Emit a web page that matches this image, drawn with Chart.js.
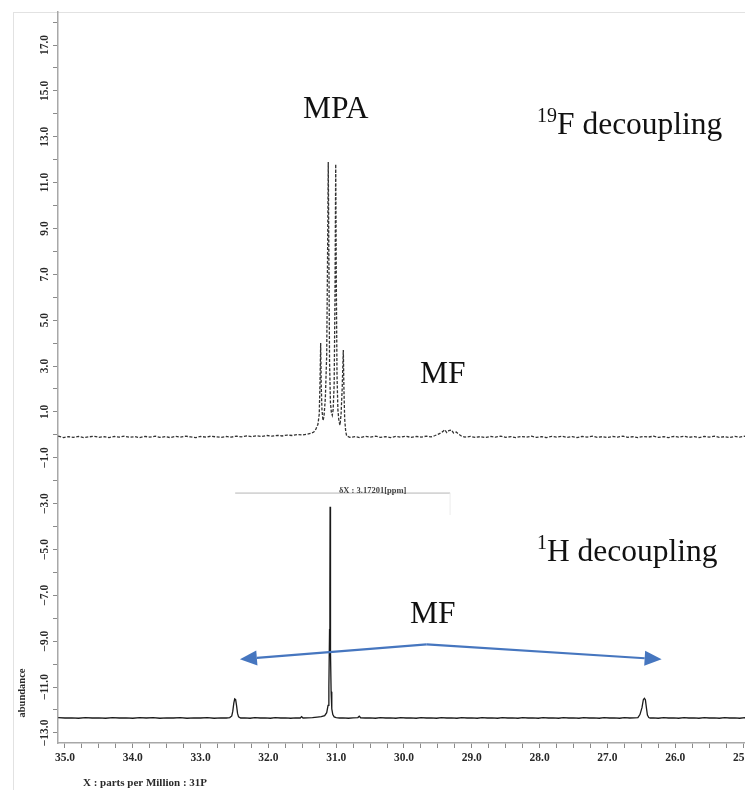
<!DOCTYPE html>
<html><head><meta charset="utf-8">
<script src="https://cdn.jsdelivr.net/npm/chart.js@4.4.1/dist/chart.umd.min.js"></script>
<style>
html,body{margin:0;padding:0;background:#fff;overflow:hidden;width:745px;height:790px}
#frame{position:absolute;left:13px;top:12px;width:800px;height:800px;border-left:1px solid #e2e2e2;border-top:1px solid #e2e2e2}
#wrap{position:absolute;left:0;top:0;width:800px;height:790px}
</style></head><body>
<div id="frame"></div>
<div id="wrap"><canvas id="c" width="800" height="790"></canvas></div>
<script>
// ---- data ----
const topPpm = [35.10,35.02,34.95,34.88,34.80,34.72,34.65,34.57,34.50,34.42,34.35,34.27,34.20,34.12,34.05,33.97,33.90,33.82,33.75,33.67,33.60,33.52,33.45,33.37,33.30,33.22,33.15,33.07,33.00,32.92,32.85,32.77,32.70,32.62,32.55,32.47,32.40,32.32,32.25,32.17,32.10,32.02,31.95,31.87,31.80,31.72,31.65,31.57,31.50,31.43,31.38,31.33,31.30,31.27,31.25,31.238,31.229,31.221,31.21,31.195,31.18,31.16,31.14,31.128,31.117,31.108,31.098,31.085,31.07,31.058,31.045,31.03,31.018,31.007,30.998,30.988,30.975,30.96,30.944,30.928,30.912,30.895,30.886,30.875,30.86,30.845,30.80,30.72,30.65,30.57,30.50,30.42,30.35,30.27,30.20,30.12,30.05,29.97,29.90,29.82,29.75,29.67,29.60,29.55,29.50,29.46,29.43,29.40,29.37,29.34,29.30,29.27,29.23,29.19,29.15,29.10,29.02,28.95,28.87,28.80,28.72,28.65,28.57,28.50,28.42,28.35,28.27,28.20,28.12,28.05,27.97,27.90,27.82,27.75,27.67,27.60,27.52,27.45,27.37,27.30,27.22,27.15,27.07,27.00,26.92,26.85,26.77,26.70,26.62,26.55,26.47,26.40,26.32,26.25,26.17,26.10,26.02,25.95,25.87,25.80,25.72,25.65,25.57,25.50,25.42,25.35,25.27,25.20,25.12,25.05,24.97,24.90,24.82,24.75,24.67,24.60,24.52,24.45,24.37,24.31];
const topAbund = [-0.06,-0.12,-0.08,-0.11,-0.07,-0.12,-0.09,-0.06,-0.11,-0.08,-0.12,-0.07,-0.10,-0.06,-0.11,-0.08,-0.12,-0.07,-0.10,-0.06,-0.11,-0.08,-0.12,-0.07,-0.10,-0.06,-0.09,-0.12,-0.07,-0.10,-0.06,-0.09,-0.11,-0.07,-0.10,-0.06,-0.09,-0.05,-0.08,-0.04,-0.07,-0.03,-0.06,-0.02,-0.05,-0.01,-0.03,0.01,-0.01,0.03,0.06,0.12,0.25,0.45,0.9,2.4,4.0,2.2,1.1,0.62,0.8,1.6,3.5,7.5,11.9,7.8,3.2,1.4,0.95,0.85,1.1,2.2,6.0,11.8,6.5,2.6,1.1,0.6,0.42,0.9,2.0,3.7,2.0,0.7,0.15,-0.05,-0.11,-0.08,-0.12,-0.07,-0.10,-0.06,-0.11,-0.08,-0.12,-0.07,-0.10,-0.06,-0.11,-0.07,-0.10,-0.06,-0.09,-0.04,0.02,0.08,0.14,0.22,0.10,0.18,0.21,0.08,0.12,0.02,-0.06,-0.10,-0.07,-0.11,-0.08,-0.12,-0.07,-0.10,-0.06,-0.11,-0.08,-0.12,-0.07,-0.10,-0.06,-0.11,-0.08,-0.12,-0.07,-0.10,-0.06,-0.11,-0.08,-0.12,-0.07,-0.10,-0.06,-0.11,-0.08,-0.12,-0.07,-0.10,-0.06,-0.11,-0.08,-0.12,-0.07,-0.10,-0.06,-0.11,-0.08,-0.12,-0.07,-0.10,-0.06,-0.11,-0.08,-0.12,-0.07,-0.10,-0.06,-0.11,-0.08,-0.12,-0.07,-0.10,-0.06,-0.11,-0.08,-0.12,-0.07,-0.10,-0.06,-0.11,-0.08,-0.10];

const botPpm = [35.10,35.00,34.90,34.80,34.70,34.60,34.50,34.40,34.30,34.20,34.10,34.00,33.90,33.80,33.70,33.60,33.50,33.40,33.30,33.20,33.10,33.00,32.90,32.80,32.70,32.62,32.57,32.54,32.525,32.51,32.497,32.483,32.47,32.455,32.44,32.41,32.35,32.27,32.20,32.12,32.05,31.97,31.90,31.82,31.75,31.67,31.60,31.53,31.51,31.49,31.42,31.35,31.28,31.22,31.17,31.14,31.12,31.108,31.098,31.093,31.090,31.086,31.082,31.075,31.065,31.05,31.03,31.00,30.95,30.90,30.82,30.75,30.68,30.66,30.64,30.57,30.50,30.42,30.35,30.27,30.20,30.12,30.05,29.97,29.90,29.82,29.75,29.67,29.60,29.52,29.45,29.37,29.30,29.22,29.15,29.07,29.00,28.92,28.85,28.77,28.70,28.62,28.55,28.47,28.40,28.32,28.25,28.17,28.10,28.02,27.95,27.87,27.80,27.72,27.65,27.57,27.50,27.42,27.35,27.27,27.20,27.12,27.05,26.97,26.90,26.82,26.75,26.67,26.60,26.55,26.52,26.49,26.47,26.455,26.44,26.425,26.41,26.39,26.37,26.32,26.25,26.17,26.10,26.02,25.95,25.87,25.80,25.72,25.65,25.57,25.50,25.42,25.35,25.27,25.20,25.12,25.05,24.97,24.90,24.82,24.75,24.67,24.60,24.52,24.45,24.37,24.31];
const botAbund = [-12.33,-12.35,-12.34,-12.36,-12.33,-12.35,-12.34,-12.36,-12.33,-12.35,-12.34,-12.36,-12.33,-12.35,-12.33,-12.36,-12.34,-12.35,-12.33,-12.36,-12.34,-12.35,-12.33,-12.36,-12.34,-12.35,-12.33,-12.26,-12.05,-11.70,-11.52,-11.55,-11.80,-12.15,-12.30,-12.35,-12.34,-12.36,-12.33,-12.35,-12.34,-12.36,-12.33,-12.35,-12.34,-12.36,-12.34,-12.35,-12.29,-12.35,-12.34,-12.33,-12.31,-12.29,-12.25,-12.12,-11.80,-11.00,-8.50,-6.60,-3.14,-6.50,-9.50,-11.20,-11.95,-12.20,-12.30,-12.33,-12.35,-12.34,-12.36,-12.34,-12.33,-12.27,-12.34,-12.35,-12.34,-12.36,-12.33,-12.35,-12.34,-12.36,-12.33,-12.35,-12.34,-12.36,-12.33,-12.35,-12.34,-12.36,-12.33,-12.35,-12.34,-12.36,-12.33,-12.35,-12.34,-12.36,-12.33,-12.35,-12.34,-12.36,-12.33,-12.35,-12.34,-12.36,-12.33,-12.35,-12.34,-12.36,-12.33,-12.35,-12.34,-12.36,-12.33,-12.35,-12.34,-12.36,-12.33,-12.35,-12.34,-12.36,-12.33,-12.35,-12.34,-12.36,-12.33,-12.35,-12.34,-12.33,-12.20,-11.90,-11.55,-11.49,-11.55,-11.90,-12.22,-12.33,-12.35,-12.34,-12.36,-12.33,-12.35,-12.34,-12.36,-12.33,-12.35,-12.34,-12.36,-12.33,-12.35,-12.34,-12.36,-12.33,-12.35,-12.34,-12.36,-12.33,-12.35,-12.34,-12.36,-12.33,-12.35,-12.34,-12.36,-12.33,-12.35];

const xTickValues = [35,34,33,32,31,30,29,28,27,26,25];
const xTickLabels = ['35.0','34.0','33.0','32.0','31.0','30.0','29.0','28.0','27.0','26.0','25.0'];
const yTickValues = [17,15,13,11,9,7,5,3,1,-1,-3,-5,-7,-9,-11,-13];
const yTickLabels = ['17.0','15.0','13.0','11.0','9.0','7.0','5.0','3.0','1.0','\u22121.0','\u22123.0','\u22125.0','\u22127.0','\u22129.0','\u221211.0','\u221213.0'];
const yTitle = 'abundance';
const xTitle = 'X : parts per Million : 31P';

// ---- build ----
const topData = topPpm.map((p,i)=>({x:p,y:topAbund[i]}));
const botData = botPpm.map((p,i)=>({x:p,y:botAbund[i]}));
const xMinor = [];
xTickValues.forEach(m=>{ xMinor.push(m); [0.25,0.5,0.75].forEach(d=>xMinor.push(m-d)); });
const yMinor = [];
for (let v=-13; v<=18; v++) yMinor.push(v);

const SERIF = '"Liberation Serif", "Times New Roman", serif';

const annot = {
  bracket: {from:32.49, to:29.32, y:-2.54, text:'\u03B4X : 3.17201[ppm]'},
  arrow: {left:[32.42,-9.79], mid:[29.665,-9.14], right:[26.20,-9.79]}
};

const deco = {
  id:'deco',
  afterDatasetsDraw(chart){
    const ctx = chart.ctx, xs = chart.scales.x, ys = chart.scales.y;
    ctx.save();
    // y tick labels (rotated)
    ctx.fillStyle = '#2a2a2a';
    ctx.font = 'bold 11.5px ' + SERIF;
    ctx.textAlign = 'center'; ctx.textBaseline = 'middle';
    yTickValues.forEach((v,i)=>{
      const py = ys.getPixelForValue(v);
      ctx.save(); ctx.translate(45, py); ctx.rotate(-Math.PI/2);
      ctx.fillText(yTickLabels[i], 0, 0); ctx.restore();
    });
    // axis titles
    ctx.font = 'bold 10.5px ' + SERIF;
    ctx.save(); ctx.translate(22, 693); ctx.rotate(-Math.PI/2);
    ctx.fillText(yTitle, 0, 0); ctx.restore();
    ctx.textAlign = 'left'; ctx.textBaseline = 'alphabetic';
    ctx.font = 'bold 11px ' + SERIF;
    ctx.fillText(xTitle, 83, 786);

    // bracket
    const b = annot.bracket;
    const bx1 = xs.getPixelForValue(b.from), bx2 = xs.getPixelForValue(b.to), by = ys.getPixelForValue(b.y);
    ctx.strokeStyle = '#b5b5b5'; ctx.lineWidth = 1;
    ctx.beginPath(); ctx.moveTo(bx1, by); ctx.lineTo(bx2, by); ctx.stroke();
    ctx.strokeStyle = '#ececec';
    ctx.beginPath(); ctx.moveTo(bx2, by); ctx.lineTo(bx2, by+22); ctx.stroke();
    ctx.fillStyle = '#444'; ctx.font = 'bold 8.5px ' + SERIF;
    ctx.textAlign = 'center'; ctx.textBaseline = 'bottom';
    ctx.fillText(b.text, (bx1+bx2)/2 + 30, by + 2);

    // arrow
    const a = annot.arrow;
    const P = q => [xs.getPixelForValue(q[0]), ys.getPixelForValue(q[1])];
    const L = P(a.left), M = P(a.mid), R = P(a.right);
    const blue = '#4676bf';
    ctx.strokeStyle = blue; ctx.fillStyle = blue; ctx.lineWidth = 2.2;
    const head = (tip, from) => {
      const dx = tip[0]-from[0], dy = tip[1]-from[1], len = Math.hypot(dx,dy);
      const ux = dx/len, uy = dy/len, hl = 17, hw = 7.5;
      const bx = tip[0]-ux*hl, by2 = tip[1]-uy*hl;
      ctx.beginPath(); ctx.moveTo(M[0], M[1]); ctx.lineTo(bx, by2); ctx.stroke();
      ctx.beginPath(); ctx.moveTo(tip[0], tip[1]);
      ctx.lineTo(bx - uy*hw, by2 + ux*hw); ctx.lineTo(bx + uy*hw, by2 - ux*hw);
      ctx.closePath(); ctx.fill();
    };
    head(L, M); head(R, M);

    // text labels
    ctx.fillStyle = '#111'; ctx.textBaseline = 'alphabetic'; ctx.textAlign = 'left';
    const big = '31.5px ' + SERIF, sup = '20px ' + SERIF;
    ctx.font = big; ctx.fillText('MPA', 303, 118);
    const supText = (s, main, x, y) => {
      ctx.font = sup; ctx.fillText(s, x, y - 12);
      const w = ctx.measureText(s).width;
      ctx.font = big; ctx.fillText(main, x + w, y);
    };
    supText('19', 'F decoupling', 537, 134);
    ctx.font = big; ctx.fillText('MF', 420, 383);
    supText('1', 'H decoupling', 537, 561);
    ctx.font = big; ctx.fillText('MF', 410, 623);
    ctx.restore();
  }
};

new Chart(document.getElementById('c'), {
  type:'scatter',
  data:{datasets:[
    {label:'19F decoupling', data:topData, showLine:true, pointRadius:0, borderColor:'#333', borderWidth:1.3, borderDash:[3,1.6], tension:0},
    {label:'1H decoupling', data:botData, showLine:true, pointRadius:0, borderColor:'#1a1a1a', borderWidth:1.3, tension:0}
  ]},
  options:{
    responsive:false, animation:false, devicePixelRatio:1,
    layout:{padding:{left:0, top:12, right:10, bottom:0}},
    plugins:{legend:{display:false}, tooltip:{enabled:false}},
    scales:{
      x:{type:'linear', reverse:true, min:24.307, max:35.103,
        afterBuildTicks:s=>{ s.ticks = xMinor.map(v=>({value:v})); },
        afterFit:s=>{ s.height = 47; },
        ticks:{autoSkip:false, maxRotation:0, minRotation:0, padding:3, color:'#2a2a2a',
          font:{family:SERIF, weight:'bold', size:11.5},
          callback:(v)=>{ const i = xTickValues.findIndex(t=>Math.abs(t-v)<1e-6); return i>=0 ? xTickLabels[i] : ''; }},
        grid:{drawOnChartArea:false, drawTicks:true, tickLength:5, color:'#8a8a8a'},
        border:{display:true, color:'#a8a8a8', width:1.5}
      },
      y:{type:'linear', min:-13.44, max:18.44,
        afterBuildTicks:s=>{ s.ticks = yMinor.map(v=>({value:v})); },
        afterFit:s=>{ s.width = 58; },
        ticks:{display:false},
        grid:{drawOnChartArea:false, drawTicks:true, tickLength:5, color:'#8a8a8a'},
        border:{display:true, color:'#a8a8a8', width:1.5}
      }
    }
  },
  plugins:[deco]
});
</script></body></html>
